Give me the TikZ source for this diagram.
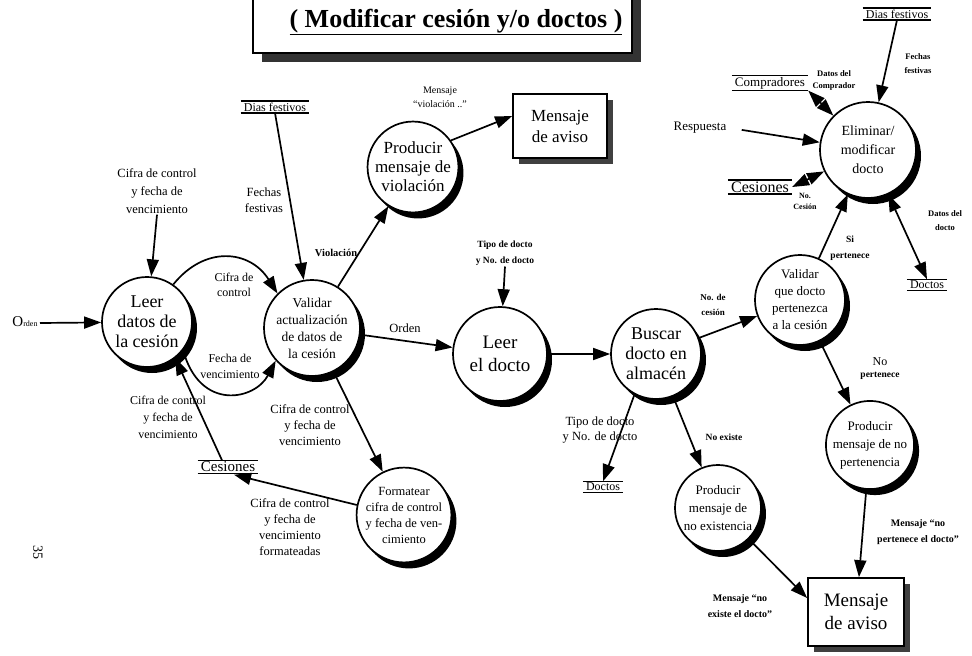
\documentclass[tikz,border=0pt]{standalone}
\usepackage{fontspec}
\setmainfont{Liberation Serif}
\usetikzlibrary{arrows.meta,shadows,calc}

\tikzset{
  fs/.style 2 args={font=\fontsize{#1}{#2}\selectfont},
  bfs/.style 2 args={font=\fontsize{#1}{#2}\selectfont\bfseries},
  flow/.style={line width=1.7pt, -{Triangle[length=17pt,width=12pt]}},
  biflow/.style={line width=1.7pt, {Triangle[length=17pt,width=12pt]}-{Triangle[length=17pt,width=12pt]}},
  proc/.style={circle, draw, line width=1.7pt, fill=white, inner sep=0pt, align=center,
    drop shadow={shadow xshift=5pt, shadow yshift=-6pt, fill=black, opacity=1}},
  entity/.style={rectangle, draw, line width=1.7pt, fill=white, align=center, inner sep=0pt,
    drop shadow={shadow xshift=6pt, shadow yshift=-6pt, fill=black!75, opacity=1}},
  store/.style={inner xsep=3pt, inner ysep=1.5pt},
  storeline/.style={line width=1.3pt},
  lbl/.style={align=center, inner sep=1pt},
}

\begin{document}
\begin{tikzpicture}[x=1pt,y=-1pt]
\useasboundingbox (0,0) rectangle (972,656);

% title banner
\fill[black!80] (262,0) rectangle (641,62);
\draw[line width=1.7pt, fill=white] (253,-6) rectangle (632,53);
\node[fs={26}{30}] (title) at (456,22) {\bfseries\underline{( Modificar cesión y/o doctos )}};

% page number
\node[fs={14}{16}, rotate=-90] (pagenum) at (38,552) {35};

% processes
\node[proc, minimum size=90, fs={18}{20}] (leerc) at (147,322) {Leer\\datos de\\la cesión};
\node[proc, minimum size=96, fs={13.5}{17}] (valc) at (312,328) {Validar\\actualización\\de datos de\\la cesión};
\node[proc, minimum size=90, fs={17}{19}] (prodv) at (413,167) {Producir\\mensaje de\\violación};
\node[proc, minimum size=94, fs={19}{23}] (leerd) at (500,354) {Leer\\el docto};
\node[proc, minimum size=90, fs={18}{20}] (busc) at (656,354) {Buscar\\docto en\\almacén};
\node[proc, minimum size=90, fs={13}{17}] (valq) at (800,300) {Validar\\que docto\\pertenezca\\a la cesión};
\node[proc, minimum size=96, fs={14}{19}] (elim) at (868,150) {Eliminar/\\modificar\\docto};
\node[proc, minimum size=86, fs={13}{18}] (prodnp) at (870,445) {Producir\\mensaje de no\\pertenencia};
\node[proc, minimum size=86, fs={13}{18}] (prodne) at (718,508) {Producir\\mensaje de\\no existencia};
\node[proc, minimum size=90, fs={12.5}{16}] (form) at (404,515) {Formatear\\cifra de control\\y fecha de ven-\\cimiento};

% external entities
\node[entity, minimum width=94, minimum height=64, fs={17}{21}] (avisoT) at (560,126) {Mensaje\\de aviso};
\node[entity, minimum width=96, minimum height=68, fs={19}{23}] (avisoB) at (856,612) {Mensaje\\de aviso};

% data stores
\node[store, fs={12}{14}] (diasL) at (275,107) {Dias festivos};
\node[store, fs={15}{17}] (cesL) at (228,467) {Cesiones};
\node[store, fs={12}{14}] (doctosM) at (603,487) {Doctos};
\node[store, fs={13}{15}] (comp) at (770,83) {Compradores};
\node[store, fs={16}{18}] (cesR) at (760,187) {Cesiones};
\node[store, fs={12}{14}] (diasR) at (897,14) {Dias festivos};
\node[store, fs={12}{14}] (doctosR) at (927,285) {Doctos};
\foreach \s in {diasL,cesL,doctosM,comp,cesR,diasR,doctosR}
  \draw[storeline] (\s.north west) -- (\s.north east) (\s.south west) -- (\s.south east);

% inputs
\node[inner sep=0pt] (ordenIn) at (25,322) {\fontsize{15}{17}\selectfont O\fontsize{8}{9}\selectfont rden};
\coordinate (o1) at (40,323);
\node[fs={13}{15}] (resp) at (700,128) {Respuesta};

% flow labels
\node[lbl, fs={12.5}{18}] (labA) at (157,191) {Cifra de control\\y fecha de\\vencimiento};
\node[lbl, fs={12}{15}] (labB) at (234,285) {Cifra de\\control};
\node[lbl, fs={12}{16}] (labC) at (230,366) {Fecha de\\vencimiento};
\node[lbl, fs={12}{17}] (labD) at (168,417) {Cifra de control\\y fecha de\\vencimiento};
\node[lbl, fs={12.5}{16}] (labE) at (264,200) {Fechas\\festivas};
\node[lbl, bfs={10.5}{13}] (labF) at (336,253) {Violación};
\node[lbl, fs={10}{14}] (labG) at (440,97) {Mensaje\\“violación ..”};
\node[lbl, fs={12.5}{14}] (labH) at (405,328) {Orden};
\node[lbl, bfs={9.5}{16}] (labI) at (505,253) {Tipo de docto\\y No. de docto};
\node[lbl, bfs={9}{15}] (labJ) at (713,305) {No. de\\cesión};
\node[lbl, fs={12.5}{15}] (labK) at (600,430) {Tipo de docto\\y No. de docto};
\node[lbl, bfs={9.5}{12}] (labL) at (724,437) {No existe};
\node[lbl, align=center, inner sep=1pt] (labM) at (880,369) {\fontsize{12}{16}\selectfont No\\\fontsize{9.5}{16}\selectfont\bfseries pertenece};
\node[lbl, bfs={10}{16}] (labN) at (918,532) {Mensaje “no\\pertenece el docto”};
\node[lbl, bfs={10}{16}] (labO) at (740,606) {Mensaje “no\\existe el docto”};
\node[lbl, fs={12.5}{16}] (labP) at (310,425) {Cifra de control\\y fecha de\\vencimiento};
\node[lbl, fs={12.5}{16}] (labQ) at (290,527) {Cifra de control\\y fecha de\\vencimiento\\formateadas};
\node[lbl, bfs={9.5}{16}] (labR) at (850,248) {Si\\pertenece};
\node[lbl, bfs={8.5}{12}] (labS) at (834,80) {Datos del\\Comprador};
\node[lbl, bfs={8}{11}] (labT) at (805,201) {No.\\Cesión};
\node[lbl, bfs={8.5}{14}] (labU) at (918,64) {Fechas\\festivas};
\node[lbl, bfs={8.5}{14}] (labV) at (945,221) {Datos del\\docto};

% connectors
\draw[flow] (o1) -- (leerc);
\draw[flow] (labA.south) -- (leerc);
\draw[flow] (leerc.55) .. controls (205,245) and (250,250) .. (valc.135);
\draw[flow] (leerc.-38) .. controls (200,412) and (255,400) .. (valc.-138);
\draw[flow] ($(cesL.north)+(-6,0)$) -- (leerc.-52);
\draw[flow] (diasL.south) -- (valc);
\draw[flow] (valc) -- (prodv);
\draw[flow] (prodv.35) -- ($(avisoT.west)+(0,-10)$);
\draw[flow] (valc) -- (leerd);
\draw[flow] (labI.south) -- (leerd);
\draw[flow] (leerd) -- (busc);
\draw[flow] (busc) -- (valq);
\draw[flow] (busc.-118) -- (doctosM.north);
\draw[flow] (busc) -- (prodne);
\draw[flow] (valq) -- (elim);
\draw[flow] (valq) -- (prodnp);
\draw[flow] (prodnp) -- (avisoB);
\draw[flow] (prodne) -- ($(avisoB.west)+(0,-14)$);
\draw[flow] (valc) -- (form);
\draw[flow] (form.168) -- ($(cesL.south)+(6,1)$);
\draw[biflow] (comp.south east) -- (elim);
\draw[flow, shorten <=12pt] (resp.east) -- (elim);
\draw[biflow] (cesR.east) -- (elim);
\draw[flow] (diasR.south) -- (elim);
\draw[biflow] (elim) -- (doctosR.north);
\end{tikzpicture}
\end{document}
